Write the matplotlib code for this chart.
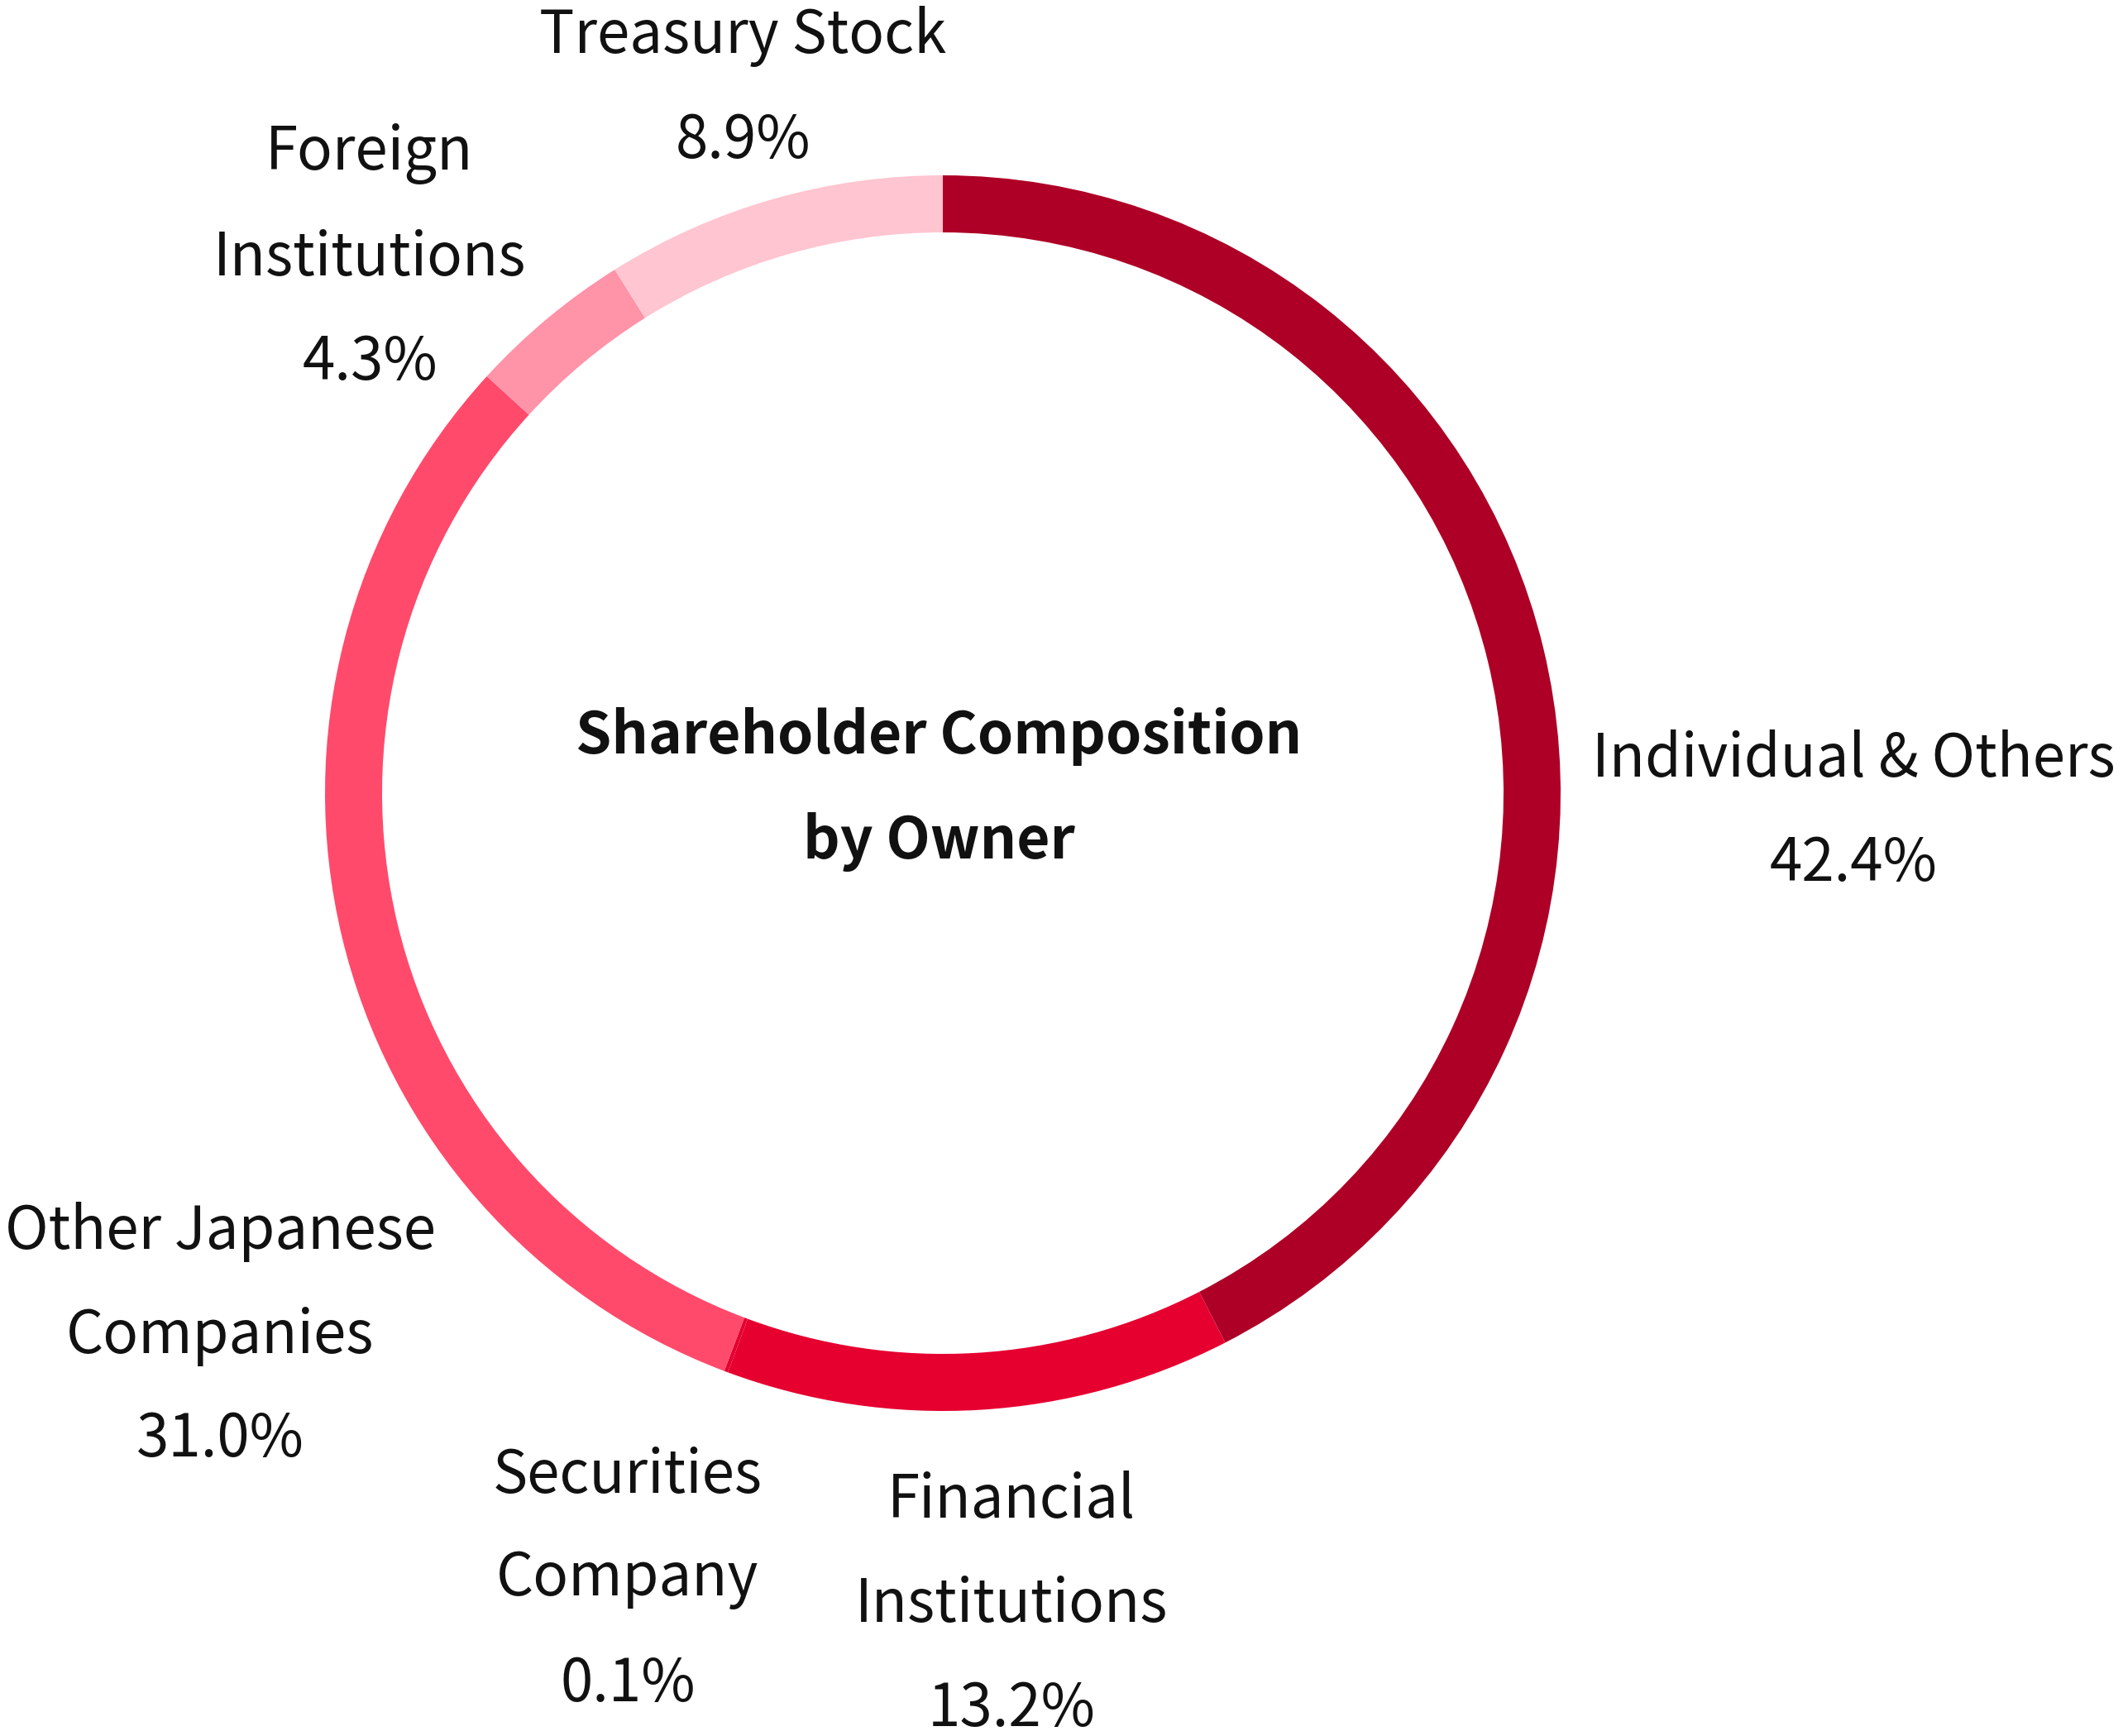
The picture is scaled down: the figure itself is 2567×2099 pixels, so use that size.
import matplotlib
matplotlib.use("Agg")
import matplotlib.pyplot as plt

# ---- data ----
categories = ["Individual & Others", "Financial\nInstitutions", "Securities\nCompany",
              "Other Japanese\nCompanies", "Foreign\nInstitutions", "Treasury Stock"]
values = [42.4, 13.2, 0.1, 31.0, 4.3, 8.9]
colors = ["#AE0026", "#E50030", "#E50030", "#FF4A6C", "#FF93A8", "#FFC5D0"]
title_lines = ["Shareholder Composition", "by Owner"]

# ---- layout (figure pixel coords, y from top) ----
W, H = 2567, 2099
label_pos = [(2241, 919), (1223, 1815), (759, 1784), (266, 1489), (447, 186), (898, 44)]
line_step = 126
center = (1140, 959)
radius = 747
ring_w = 69

plt.rcParams["font.family"] = ["Noto Sans CJK JP", "DejaVu Sans"]
fig = plt.figure(figsize=(W / 100, H / 100), dpi=100)
ax = fig.add_axes([0, 0, 1, 1])
ax.pie(values, colors=colors, startangle=90, counterclock=False,
       center=(center[0], H - center[1]), radius=radius,
       wedgeprops=dict(width=ring_w, linewidth=0))
ax.set_xlim(0, W)
ax.set_ylim(0, H)
ax.set_aspect("equal")
ax.axis("off")

fs = 51
for cat, val, (x, y) in zip(categories, values, label_pos):
    lines = cat.split("\n") + [f"{val:.1f}%"]
    for i, ln in enumerate(lines):
        ax.text(x, H - (y + i * line_step), ln, ha="center", va="center",
                fontsize=fs, color="#111111")

for i, ln in enumerate(title_lines):
    ax.text(center[0] - 5, H - (891 + i * 127), ln, ha="center", va="center",
            fontsize=50, fontweight="bold", color="#111111")

fig.savefig("out.png", dpi=100, facecolor="white")
